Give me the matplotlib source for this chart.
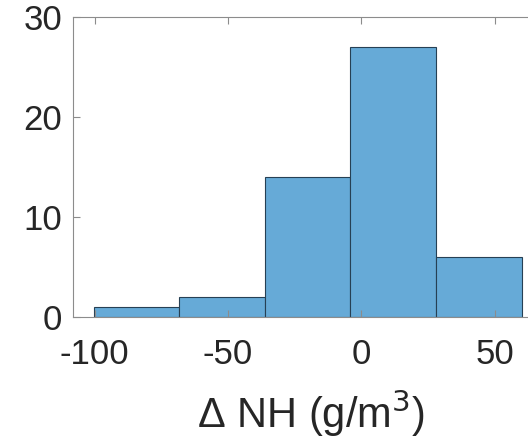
import matplotlib
matplotlib.use("Agg")
import matplotlib.pyplot as plt
import numpy as np

plt.rcParams['font.family'] = ['Liberation Sans', 'DejaVu Sans']
plt.rcParams['axes.unicode_minus'] = False

bin_edges = [-100.4, -68.3, -36.2, -4.1, 28.0, 60.1]
counts = [1, 2, 14, 27, 6]
xticks = [-100, -50, 0, 50]
yticks = [0, 10, 20, 30]

fig = plt.figure(figsize=(5.28, 4.47), dpi=100)
ax = fig.add_axes([73.3/528, 1 - 316.7/447, (548 - 73.3)/528, (316.7 - 17.3)/447])

edges = np.array(bin_edges)
ax.bar(edges[:-1], counts, width=np.diff(edges), align='edge',
       color=(0.4, 0.668, 0.845), edgecolor=(0.15, 0.25, 0.33), linewidth=0.8)

ax.set_xlim(-108, 70)
ax.set_ylim(0, 30)
ax.set_xticks(xticks)
ax.set_xticklabels([str(t) for t in xticks])
ax.set_yticks(yticks)
for s in ax.spines.values():
    s.set_color('#8c8c8c')
    s.set_linewidth(0.8)
ax.tick_params(direction='in', length=5, width=0.8, color='#8c8c8c',
               labelsize=25, labelcolor='#262626', top=True, right=True)
ax.tick_params(axis='x', pad=15)
ax.tick_params(axis='y', pad=8)
ax.set_xlabel('Δ NH (g/m$^3$)', fontsize=30, color='#262626', labelpad=12)

fig.savefig('out.png', dpi=100)
